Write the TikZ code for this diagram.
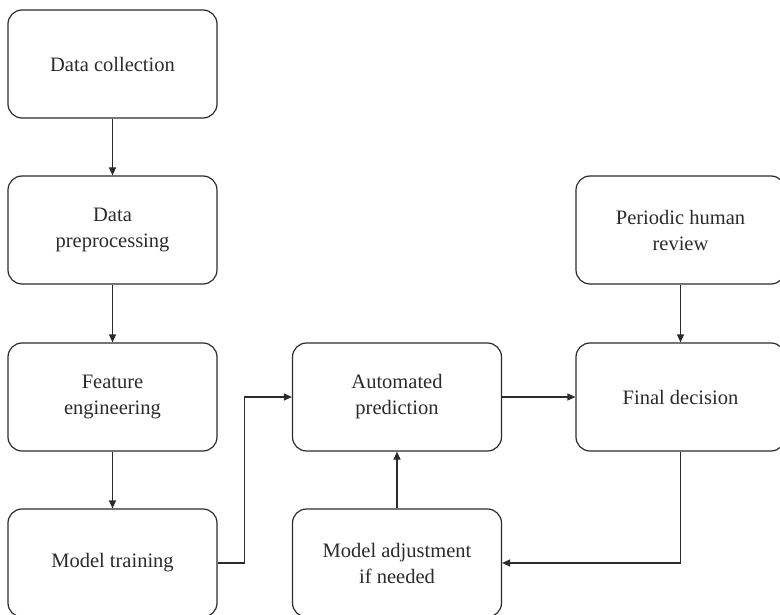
\documentclass[tikz,border=0pt]{standalone}
\usepackage{fontspec}
\setmainfont{Liberation Serif}
\usetikzlibrary{arrows.meta}
\definecolor{ink}{HTML}{2B2B2B}
\begin{document}
\begin{tikzpicture}[x=1pt,y=-1pt,
  stage/.style={draw=ink, line width=1.2pt, rounded corners=14pt,
    minimum width=209pt, minimum height=108pt, align=center,
    text=ink, font=\fontsize{20.5}{26}\selectfont, inner sep=0pt},
  flow/.style={draw=ink, line width=1.2pt,
    -{Triangle[length=8pt,width=7pt]}}]
\useasboundingbox (0,0) rectangle (780,615);
\clip (0,0) rectangle (780,615);

% left column: the pipeline
\node[stage] (collect) at (112.5,64) {Data collection};
\node[stage] (prep)    at (112.5,230) {Data\\preprocessing};
\node[stage] (feat)    at (112.5,397) {Feature\\engineering};
\node[stage] (train)   at (112.5,563) {Model training};

% middle column
\node[stage] (pred)    at (397,397) {Automated\\prediction};
\node[stage] (adjust)  at (397,563) {Model adjustment\\if needed};

% right column
\node[stage] (review)  at (680.5,230) {Periodic human\\review};
\node[stage] (final)   at (680.5,397) {Final decision};

% connectors
\draw[flow] (collect) -- (prep);
\draw[flow] (prep) -- (feat);
\draw[flow] (feat) -- (train);
\draw[flow] (train.east) -- ++(27,0) |- (pred.west);
\draw[flow] (pred) -- (final);
\draw[flow] (review) -- (final);
\draw[flow] (final.south) |- (adjust.east);
\draw[flow] (adjust) -- (pred);
\end{tikzpicture}
\end{document}
